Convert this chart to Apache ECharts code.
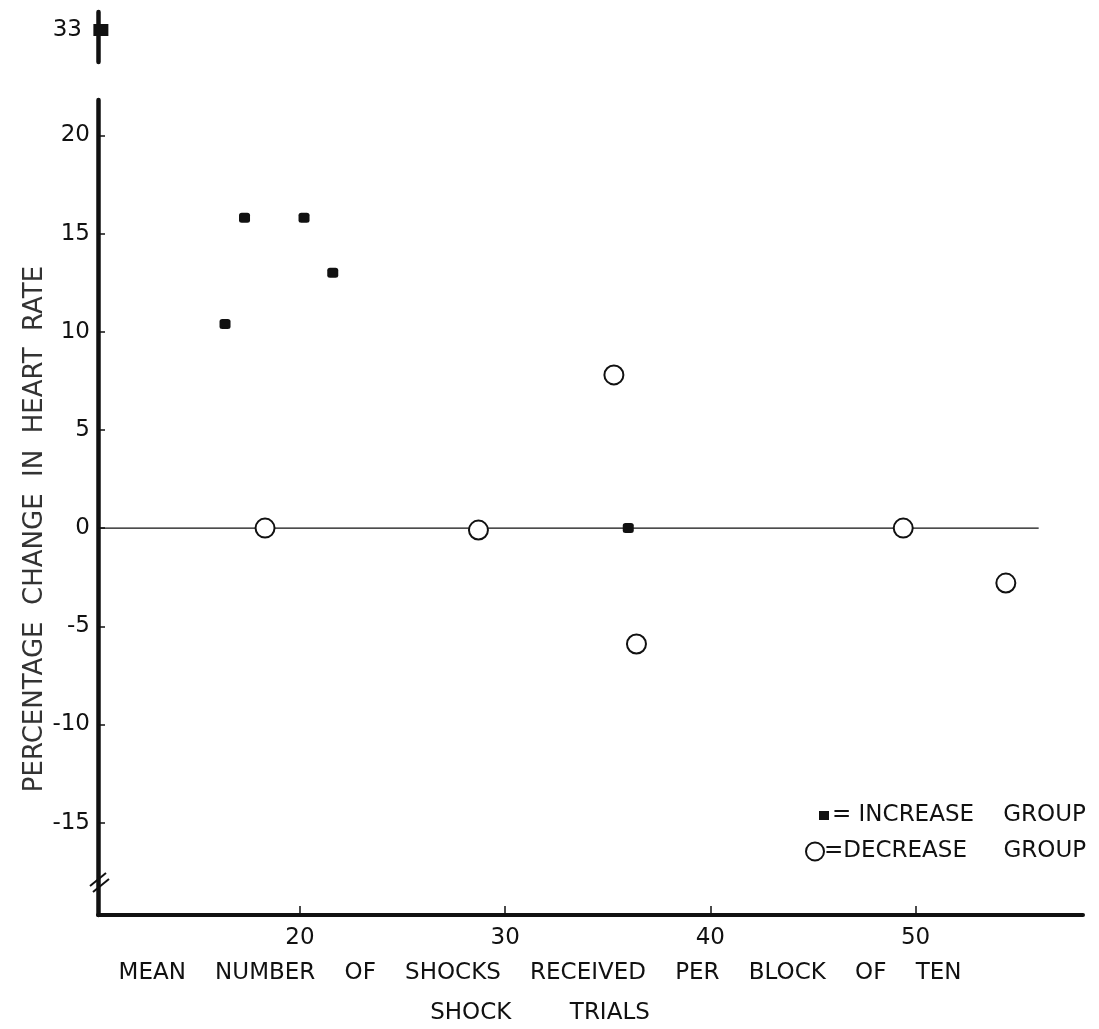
<!DOCTYPE html>
<html>
<head>
<meta charset="utf-8">
<script src="https://cdn.jsdelivr.net/npm/echarts@6/dist/echarts.min.js"></script>
<style>
html,body{margin:0;padding:0;background:#fff;}
#c{width:1099px;height:1029px;}
</style>
</head>
<body>
<div id="c"></div>
<script>
// ---- data ----
const increaseX = [16.35, 17.3, 20.2, 21.6, 36.0];
const increaseY = [10.4, 15.8, 15.8, 13.0, 0.0];
const increaseOutlierX = [10.3];
const increaseOutlierY = [33];
const decreaseX = [18.3, 28.7, 35.3, 36.4, 49.4, 54.4];
const decreaseY = [0.0, -0.1, 7.8, -5.9, 0.0, -2.8];
const zeroLineX = [10.2, 56];
const zeroLineY = [0, 0];
const xTicks = [20, 30, 40, 50];
const yTicks = [-15, -10, -5, 0, 5, 10, 15, 20];
const yTopTicks = [33];
const seriesNames = ['INCREASE GROUP', 'DECREASE GROUP'];
const legendTexts = ['= INCREASE    GROUP', '=DECREASE     GROUP'];
const xTitle1 = 'MEAN    NUMBER    OF    SHOCKS    RECEIVED    PER    BLOCK    OF    TEN';
const xTitle2 = 'SHOCK        TRIALS';
const yTitle = 'PERCENTAGE  CHANGE  IN  HEART  RATE';

const pairs = (xs, ys) => xs.map((x, i) => [x, ys[i]]);
const FONT = 'DejaVu Sans';
const INK = '#111';

const chart = echarts.init(document.getElementById('c'), null, {renderer: 'canvas'});
chart.setOption({
  backgroundColor: '#fff',
  animation: false,
  textStyle: {fontFamily: FONT, color: INK},
  grid: [
    {left: 98, top: 100, width: 985, height: 815},
    {left: 98, top: 12, width: 985, height: 50}
  ],
  xAxis: [
    {
      type: 'value', gridIndex: 0, min: 10.16, max: 58.16,
      axisLine: {show: true, onZero: false, lineStyle: {color: INK, width: 4}},
      axisTick: {show: true, inside: true, length: 9, customValues: xTicks, lineStyle: {color: INK, width: 1.5}},
      axisLabel: {customValues: xTicks, fontSize: 23, color: INK, margin: 12, fontFamily: FONT},
      splitLine: {show: false}
    },
    {
      type: 'value', gridIndex: 1, min: 10.16, max: 58.16, show: false
    }
  ],
  yAxis: [
    {
      type: 'value', gridIndex: 0, min: -19.7, max: 21.8,
      axisLine: {show: true, onZero: false, lineStyle: {color: INK, width: 4.5}},
      axisTick: {show: true, inside: true, length: 7, customValues: yTicks, lineStyle: {color: INK, width: 1.5}},
      axisLabel: {customValues: yTicks, fontSize: 23, color: INK, margin: 8, fontFamily: FONT},
      splitLine: {show: false}
    },
    {
      type: 'value', gridIndex: 1, min: 31.4, max: 33.9,
      axisLine: {show: true, onZero: false, lineStyle: {color: INK, width: 4.5}},
      axisTick: {show: false, customValues: yTopTicks},
      axisLabel: {customValues: yTopTicks, fontSize: 23, color: INK, margin: 16, fontFamily: FONT},
      splitLine: {show: false}
    }
  ],
  legend: [
    {
      data: [{name: seriesNames[0], icon: 'rect', itemStyle: {color: INK, opacity: 1}}],
      left: 814, top: 799,
      itemWidth: 10, itemHeight: 9, itemGap: 0,
      formatter: () => legendTexts[0],
      textStyle: {fontSize: 23, color: INK, fontFamily: FONT, padding: [0, 0, 0, -2]}
    },
    {
      data: [{name: seriesNames[1], icon: 'circle', itemStyle: {color: '#fff', borderColor: INK, borderWidth: 2, opacity: 1}}],
      left: 800, top: 835,
      itemWidth: 18, itemHeight: 18, itemGap: 0,
      formatter: () => legendTexts[1],
      textStyle: {fontSize: 23, color: INK, fontFamily: FONT, padding: [0, 0, 0, -5]}
    }
  ],
  series: [
    {
      name: 'zero', type: 'line', xAxisIndex: 0, yAxisIndex: 0,
      data: pairs(zeroLineX, zeroLineY), symbol: 'none', silent: true, z: 1,
      lineStyle: {color: INK, width: 1.3, opacity: 1}
    },
    {
      name: seriesNames[0], type: 'scatter', xAxisIndex: 0, yAxisIndex: 0,
      data: pairs(increaseX, increaseY), symbol: 'roundRect', symbolSize: [11, 10], z: 3,
      itemStyle: {color: INK, opacity: 1}
    },
    {
      name: seriesNames[0], type: 'scatter', xAxisIndex: 1, yAxisIndex: 1, clip: false,
      data: pairs(increaseOutlierX, increaseOutlierY), symbol: 'rect', symbolSize: [15, 12], z: 3,
      itemStyle: {color: INK, opacity: 1}
    },
    {
      name: seriesNames[1], type: 'scatter', xAxisIndex: 0, yAxisIndex: 0,
      data: pairs(decreaseX, decreaseY), symbol: 'circle', symbolSize: 19, z: 3,
      itemStyle: {color: '#fff', borderColor: INK, borderWidth: 2, opacity: 1}
    }
  ],
  graphic: [
    {
      type: 'text', x: 540, y: 973,
      style: {text: xTitle1, fontSize: 23, fill: INK, fontFamily: FONT, align: 'center', verticalAlign: 'middle'}
    },
    {
      type: 'text', x: 540, y: 1013,
      style: {text: xTitle2, fontSize: 23, fill: INK, fontFamily: FONT, align: 'center', verticalAlign: 'middle'}
    },
    {
      type: 'text', x: 35, y: 529, rotation: Math.PI / 2,
      style: {text: yTitle, fontSize: 26, fill: '#333', fontFamily: FONT, align: 'center', verticalAlign: 'middle'}
    },
    {
      type: 'polyline', shape: {points: [[90, 886], [106, 873]]},
      style: {stroke: INK, lineWidth: 2}
    },
    {
      type: 'polyline', shape: {points: [[93, 892], [109, 879]]},
      style: {stroke: INK, lineWidth: 2}
    }
  ]
});
</script>
</body>
</html>
